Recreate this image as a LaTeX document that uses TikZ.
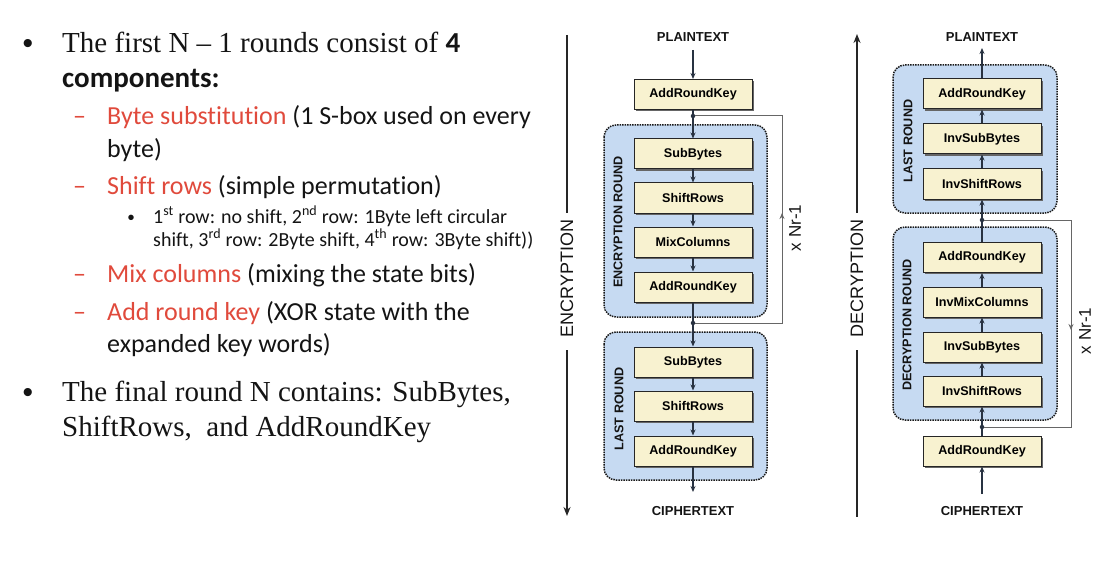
\documentclass[tikz,border=0pt]{standalone}
\usepackage{fontspec}
\setmainfont{Liberation Serif}
\newfontfamily\carl[Ligatures=NoCommon]{Carlito}
\newfontfamily\arial{Liberation Sans}
\usetikzlibrary{arrows.meta,shadows}
\definecolor{redt}{RGB}{224,74,60}
\definecolor{ink}{RGB}{20,20,20}
\definecolor{cream}{RGB}{248,242,208}
\definecolor{bluef}{RGB}{198,218,242}
\definecolor{lc}{RGB}{40,50,65}
\begin{document}
\begin{tikzpicture}[x=1pt,y=-1pt,
  blk/.style={draw=black!85, line width=1pt, fill=cream, minimum width=118pt, minimum height=30pt, inner sep=0pt,
    font=\arial\bfseries\fontsize{12.6}{14}\selectfont,
    drop shadow={shadow xshift=1.8pt, shadow yshift=-1.8pt, fill=black!60, opacity=1}},
  rnd/.style={draw=black!90, fill=bluef, densely dotted, line width=1.5pt, rounded corners=12pt},
  lbl/.style={font=\arial\bfseries\fontsize{13}{15}\selectfont, inner sep=0pt, text=ink},
  rlbl/.style={lbl, rotate=90, font=\arial\bfseries\fontsize{12.6}{14}\selectfont},
  arr/.style={draw=lc, line width=1.3pt, -{Stealth[length=6pt,width=5pt]}},
  ln/.style={draw=lc, line width=1.3pt},
  loopc/.style={draw=black!60, line width=1pt},
  big/.style={line width=1.5pt, draw=black!85},
  bigt/.style={font=\arial\fontsize{18}{20}\selectfont, rotate=90, inner sep=0pt, text=ink},
  nr/.style={font=\arial\fontsize{17}{19}\selectfont, rotate=90, inner sep=0pt, text=ink},
  dotn/.style={circle, fill=lc, inner sep=0pt, minimum size=4.5pt},
  tx/.style={anchor=base west, inner sep=0pt, text=ink},
  mainf/.style={font=\fontsize{29}{32}\selectfont},
  subf/.style={font=\carl\fontsize{26}{30}\selectfont},
  ssf/.style={font=\carl\fontsize{20}{24}\selectfont},
  bul/.style={anchor=base, inner sep=0pt, text=ink, font=\arial\fontsize{30}{32}\selectfont}
]
\useasboundingbox (0,0) rectangle (1110,572);

% ---------------- left text ----------------
\node[bul] (b1) at (28,54) {•};
\node[tx,mainf] (t1) at (62,53) {The first N – 1 rounds consist of {\carl\bfseries 4}};
\node[tx,mainf] (t2) at (62,88) {\carl\bfseries components:};
\node[tx,subf,text=redt] (h1) at (73,125) {–};
\node[tx,subf] (t3) at (107,125) {{\color{redt}Byte substitution} (1 S-box used on every};
\node[tx,subf] (t4) at (107,158) {byte)};
\node[tx,subf,text=redt] (h2) at (73,194) {–};
\node[tx,subf] (t5) at (107,194) {{\color{redt}Shift rows} (simple permutation)};
\node[bul,font=\arial\fontsize{20}{22}\selectfont] (b2) at (131,224) {•};
\node[tx,ssf] (t6) at (153,223) {1\textsuperscript{st} row: no shift, 2\textsuperscript{nd} row: 1Byte left circular};
\node[tx,ssf] (t7) at (153,246) {shift, 3\textsuperscript{rd} row: 2Byte shift, 4\textsuperscript{th} row: 3Byte shift))};
\node[tx,subf,text=redt] (h3) at (73,282) {–};
\node[tx,subf] (t8) at (107,282) {{\color{redt}Mix columns} (mixing the state bits)};
\node[tx,subf,text=redt] (h4) at (73,320) {–};
\node[tx,subf] (t9) at (107,320) {{\color{redt}Add round key} (XOR state with the};
\node[tx,subf] (t10) at (107,352) {expanded key words)};
\node[bul] (b3) at (28,402) {•};
\node[tx,mainf] (t11) at (62,401) {The final round N contains: SubBytes,};
\node[tx,mainf] (t12) at (62,436) {ShiftRows,\ \ and AddRoundKey};

% ---------------- encryption ----------------
\draw[big] (567,35) -- (567,213);
\node[bigt] (encT) at (567,278.5) {ENCRYPTION};
\draw[big,-{Stealth[length=9pt,width=7pt]}] (567,350) -- (567,516);

\path[rnd] (604,125) rectangle (767,317);
\path[rnd] (604,332) rectangle (767,480);
\node[rlbl] (erl) at (618,222) {ENCRYPTION ROUND};
\node[rlbl] (ell) at (619,409) {LAST ROUND};

\node[lbl] (ptE) at (693,37) {PLAINTEXT};
\node[blk] (ark0) at (693,94.5) {AddRoundKey};
\node[blk] (sb1) at (693,154) {SubBytes};
\node[blk] (sr1) at (693,198) {ShiftRows};
\node[blk] (mc1) at (693,242) {MixColumns};
\node[blk] (ark1) at (693,287) {AddRoundKey};
\node[blk] (sb2) at (693,362) {SubBytes};
\node[blk] (sr2) at (693,406) {ShiftRows};
\node[blk] (ark2) at (693,451) {AddRoundKey};
\node[lbl] (ctE) at (693,511) {CIPHERTEXT};
\node[dotn] (d1) at (693,116) {};
\node[dotn] (d2) at (693,323) {};
\coordinate (ps) at (693,50);
\coordinate (ce) at (693,492);

\draw[arr] (ps) -- (ark0);
\draw[ln] (ark0) -- (d1);
\draw[arr] (d1) -- (sb1);
\draw[arr] (sb1) -- (sr1);
\draw[arr] (sr1) -- (mc1);
\draw[arr] (mc1) -- (ark1);
\draw[ln] (ark1) -- (d2);
\draw[arr] (d2) -- (sb2);
\draw[arr] (sb2) -- (sr2);
\draw[arr] (sr2) -- (ark2);
\draw[arr] (ark2) -- (ce);

\coordinate (c1) at (782,116);
\coordinate (c2) at (782,323);
\coordinate (c3) at (782,213);
\draw[loopc] (d2) -- (c2) -- (c1) -- (d1);
\draw[loopc,-{Stealth[length=6pt,width=5pt]}] (c2) -- (c3);
\node[nr] (nrE) at (795,228) {x Nr-1};

% ---------------- decryption ----------------
\draw[big,{Stealth[length=9pt,width=7pt]}-] (857,34) -- (857,213);
\node[bigt] (decT) at (857,278.5) {DECRYPTION};
\draw[big] (857,350) -- (857,517);

\path[rnd] (893,65) rectangle (1057,213);
\path[rnd] (893,227) rectangle (1057,420);
\node[rlbl] (dll) at (908,141) {LAST ROUND};
\node[rlbl] (drl) at (907,325) {DECRYPTION ROUND};

\node[lbl] (ptD) at (982,37) {PLAINTEXT};
\node[blk] (dark2) at (982,94) {AddRoundKey};
\node[blk] (isb2) at (982,139) {InvSubBytes};
\node[blk] (isr2) at (982,184) {InvShiftRows};
\node[blk] (dark1) at (982,257.5) {AddRoundKey};
\node[blk] (imc1) at (982,302) {InvMixColumns};
\node[blk] (isb1) at (982,347) {InvSubBytes};
\node[blk] (isr1) at (982,391) {InvShiftRows};
\node[blk] (dark0) at (982,451) {AddRoundKey};
\node[lbl] (ctD) at (982,511) {CIPHERTEXT};
\node[dotn] (e1) at (982,220) {};
\node[dotn] (e2) at (982,427) {};
\coordinate (pe) at (982,48);
\coordinate (cs) at (982,494);

\draw[arr] (cs) -- (dark0);
\draw[ln] (dark0) -- (e2);
\draw[arr] (e2) -- (isr1);
\draw[arr] (isr1) -- (isb1);
\draw[arr] (isb1) -- (imc1);
\draw[arr] (imc1) -- (dark1);
\draw[ln] (dark1) -- (e1);
\draw[arr] (e1) -- (isr2);
\draw[arr] (isr2) -- (isb2);
\draw[arr] (isb2) -- (dark2);
\draw[arr] (dark2) -- (pe);

\coordinate (f1) at (1071,220);
\coordinate (f2) at (1071,427);
\coordinate (f3) at (1071,330);
\draw[loopc] (e1) -- (f1) -- (f2) -- (e2);
\draw[loopc,-{Stealth[length=6pt,width=5pt]}] (f1) -- (f3);
\node[nr] (nrD) at (1085,331) {x Nr-1};
\end{tikzpicture}
\end{document}
